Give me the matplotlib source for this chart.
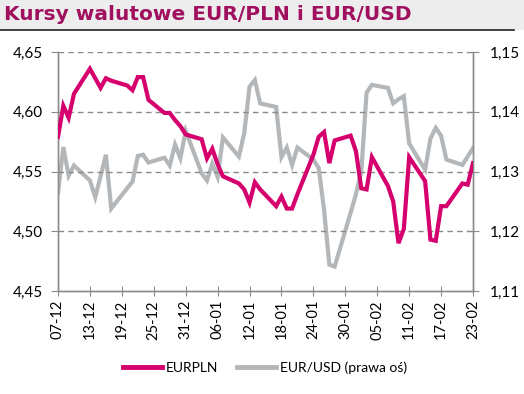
import matplotlib
matplotlib.use("Agg")
import matplotlib.pyplot as plt
import matplotlib.dates as mdates
from matplotlib.ticker import FixedLocator, FuncFormatter
from matplotlib.lines import Line2D
import pandas as pd

dates = pd.bdate_range("2021-12-07", "2022-02-23")

eurpln = [
    4.579, 4.605, 4.595, 4.615,                 # Dec 7-10
    4.636, 4.628, 4.620, 4.628, 4.626,          # Dec 13-17
    4.622, 4.618, 4.629, 4.629, 4.610,          # Dec 20-24
    4.599, 4.599, 4.593, 4.588, 4.581,          # Dec 27-31
    4.577, 4.561, 4.569, 4.556, 4.546,          # Jan 3-7
    4.540, 4.535, 4.524, 4.541, 4.535,          # Jan 10-14
    4.521, 4.529, 4.519, 4.519, 4.531,          # Jan 17-21
    4.564, 4.579, 4.583, 4.557, 4.576,          # Jan 24-28
    4.580, 4.567, 4.536, 4.535, 4.562,          # Jan 31-Feb 4
    4.538, 4.525, 4.490, 4.502, 4.562,          # Feb 7-11
    4.542, 4.493, 4.492, 4.521, 4.521,          # Feb 14-18
    4.540, 4.539, 4.557,                        # Feb 21-23
]

eurusd = [
    1.1264, 1.1341, 1.1293, 1.1310,             # Dec 7-10
    1.1285, 1.1257, 1.1292, 1.1328, 1.1238,     # Dec 13-17
    1.1272, 1.1283, 1.1326, 1.1328, 1.1315,     # Dec 20-24
    1.1323, 1.1310, 1.1345, 1.1322, 1.1368,     # Dec 27-31
    1.1297, 1.1285, 1.1313, 1.1291, 1.1357,     # Jan 3-7
    1.1325, 1.1364, 1.1442, 1.1453, 1.1414,     # Jan 10-14
    1.1408, 1.1324, 1.1340, 1.1311, 1.1340,     # Jan 17-21
    1.1320, 1.1306, 1.1236, 1.1144, 1.1141,     # Jan 24-28
    1.1231, 1.1262, 1.1300, 1.1432, 1.1445,     # Jan 31-Feb 4
    1.1440, 1.1414, 1.1421, 1.1426, 1.1347,     # Feb 7-11
    1.1303, 1.1355, 1.1373, 1.1360, 1.1320,     # Feb 14-18
    1.1311, 1.1325, 1.1339,                     # Feb 21-23
]

tick_dates = pd.date_range("2021-12-07", "2022-02-23", freq="6D")
tick_labels = [d.strftime("%d-%m") for d in tick_dates]
left_ticks = [4.45, 4.50, 4.55, 4.60, 4.65]
right_ticks = [1.11, 1.12, 1.13, 1.14, 1.15]

title = "Kursy walutowe EUR/PLN i EUR/USD"
label_pln = "EURPLN"
label_usd = "EUR/USD (prawa oś)"

C_PLN = "#D5006D"
C_USD = "#B4B7BA"
C_AX = "#8C8C8C"
C_TITLE = "#A0105F"

plt.rcParams["font.family"] = ["Lato", "DejaVu Sans"]

fig = plt.figure(figsize=(5.24, 3.94), dpi=100)
W, H = 524, 394

# title band
fig.patches.append(plt.Rectangle((0, 1 - 30 / H), 1, 30 / H, transform=fig.transFigure,
                                 facecolor="#EDEDED", edgecolor="none", zorder=0))
fig.lines.append(plt.Line2D([0, 514 / W], [1 - 29.5 / H, 1 - 29.5 / H], transform=fig.transFigure,
                            color="#222222", lw=1.2))
fig.text(4 / W, 1 - 15 / H, title, color=C_TITLE, fontsize=14.5, fontweight="bold",
         family=["DejaVu Sans"], va="center", ha="left")

ax = fig.add_axes([58 / W, 1 - 291 / H, (473 - 58) / W, (291 - 52) / H])
ax2 = ax.twinx()

ax.plot(dates, eurpln, color=C_PLN, lw=3.0, solid_joinstyle="miter", zorder=3)
ax2.plot(dates, eurusd, color=C_USD, lw=3.0, solid_joinstyle="miter", zorder=2)
ax.set_zorder(ax2.get_zorder() + 1)
ax.patch.set_visible(False)

ax.set_xlim(dates[0], dates[-1])
ax.set_ylim(4.45, 4.65)
ax2.set_ylim(1.11, 1.15)

ax.xaxis.set_major_locator(FixedLocator(mdates.date2num(tick_dates)))
ax.set_xticklabels(tick_labels, rotation=90, fontsize=10.5)

fmt = FuncFormatter(lambda v, p: f"{v:.2f}".replace(".", ","))
ax.set_yticks(left_ticks)
ax.yaxis.set_major_formatter(fmt)
ax2.set_yticks(right_ticks)
ax2.yaxis.set_major_formatter(fmt)

for v in left_ticks[1:]:
    ax.axhline(v, color="#8A8A8A", lw=1.0, ls=(0, (4, 3)), zorder=1)

for a in (ax, ax2):
    a.spines["top"].set_visible(False)
    for s in ("left", "right", "bottom"):
        a.spines[s].set_color(C_AX)
        a.spines[s].set_linewidth(1.0)

ax.tick_params(axis="y", direction="out", length=5, color=C_AX, labelsize=11, pad=6)
ax2.tick_params(axis="y", direction="inout", length=8, color=C_AX, labelsize=11, pad=8)
ax.tick_params(axis="x", direction="inout", length=7, color=C_AX, labelsize=10.5, pad=3)

handles = [Line2D([], [], color=C_PLN, lw=3.5), Line2D([], [], color=C_USD, lw=3.5)]
fig.legend(handles, [label_pln, label_usd], loc="center", bbox_to_anchor=(265 / W, 1 - 368 / H),
           ncol=2, frameon=False, fontsize=10, handlelength=2.8, columnspacing=1.4,
           handletextpad=0.25)

fig.savefig("out.png", dpi=100, facecolor="white")
